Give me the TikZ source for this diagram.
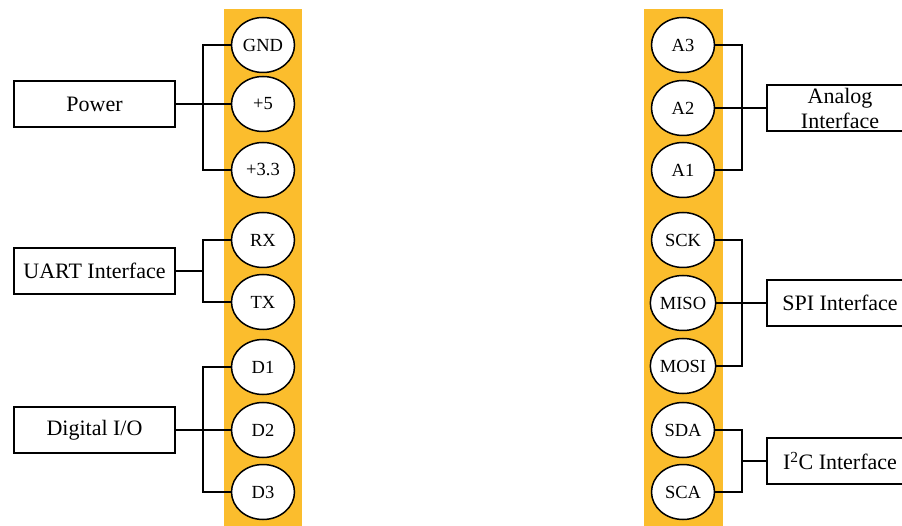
\documentclass[tikz,border=0pt]{standalone}
\usepackage{fontspec}
\setmainfont{Liberation Serif}
\usetikzlibrary{shapes.geometric}
\definecolor{stripcol}{RGB}{251,189,45}
\tikzset{
  pinell/.style={ellipse, draw=black, line width=1.5pt, fill=white, minimum width=63pt, minimum height=55pt, inner sep=0pt, font=\fontsize{18.5}{20}\selectfont},
  labbox/.style={rectangle, draw=black, line width=1.7pt, fill=white, minimum height=46pt, inner sep=0pt, font=\fontsize{22}{26}\selectfont, align=center},
  wire/.style={draw=black, line width=1.7pt}
}
\begin{document}
\begin{tikzpicture}[x=1pt,y=-1pt]
\useasboundingbox (0,0) rectangle (902,526);
\clip (0,0) rectangle (902,526);
\fill[stripcol] (224,9) rectangle (302,526);
\fill[stripcol] (644,9) rectangle (723,526);
% left pins
\node[pinell] (gnd) at (263,45) {GND};
\node[pinell] (p5) at (263,104) {+5};
\node[pinell] (p33) at (263,170) {+3.3};
\node[pinell] (rx) at (263,240) {RX};
\node[pinell] (tx) at (263,302) {TX};
\node[pinell] (d1) at (263,367) {D1};
\node[pinell] (d2) at (263,430) {D2};
\node[pinell] (d3) at (263,492) {D3};
% right pins
\node[pinell] (a3) at (683,45) {A3};
\node[pinell] (a2) at (683,108) {A2};
\node[pinell] (a1) at (683,170) {A1};
\node[pinell] (sck) at (683,240) {SCK};
\node[pinell] (miso) at (683,303) {MISO};
\node[pinell] (mosi) at (683,366) {MOSI};
\node[pinell] (sda) at (683,430) {SDA};
\node[pinell] (sca) at (683,492) {SCA};
% left boxes
\node[labbox, minimum width=161pt] (power) at (94.5,104) {Power};
\node[labbox, minimum width=161pt] (uart) at (94.5,271) {UART Interface};
\node[labbox, minimum width=161pt] (dio) at (94.5,430) {Digital I/O};
% right boxes
\node[labbox, minimum width=146pt] (analog) at (840,108) {Analog\\[-1pt]Interface};
\node[labbox, minimum width=146pt] (spi) at (840,303) {SPI Interface};
\node[labbox, minimum width=146pt] (i2c) at (840,461) {I\textsuperscript{2}C Interface};
% bracket coordinates
\coordinate (bl) at (203,0);
\coordinate (br) at (742,0);
% left connectors
\draw[wire] (gnd.west) -- (gnd.west -| bl) -- (p33.west -| bl) -- (p33.west);
\draw[wire] (power.east) -- (p5.west);
\draw[wire] (rx.west) -- (rx.west -| bl) -- (tx.west -| bl) -- (tx.west);
\draw[wire] (uart.east) -- (uart.east -| bl);
\draw[wire] (d1.west) -- (d1.west -| bl) -- (d3.west -| bl) -- (d3.west);
\draw[wire] (dio.east) -- (d2.west);
% right connectors
\draw[wire] (a3.east) -- (a3.east -| br) -- (a1.east -| br) -- (a1.east);
\draw[wire] (a2.east) -- (analog.west);
\draw[wire] (sck.east) -- (sck.east -| br) -- (mosi.east -| br) -- (mosi.east);
\draw[wire] (miso.east) -- (spi.west);
\draw[wire] (sda.east) -- (sda.east -| br) -- (sca.east -| br) -- (sca.east);
\draw[wire] (i2c.west) -- (i2c.west -| br);
\end{tikzpicture}
\end{document}
